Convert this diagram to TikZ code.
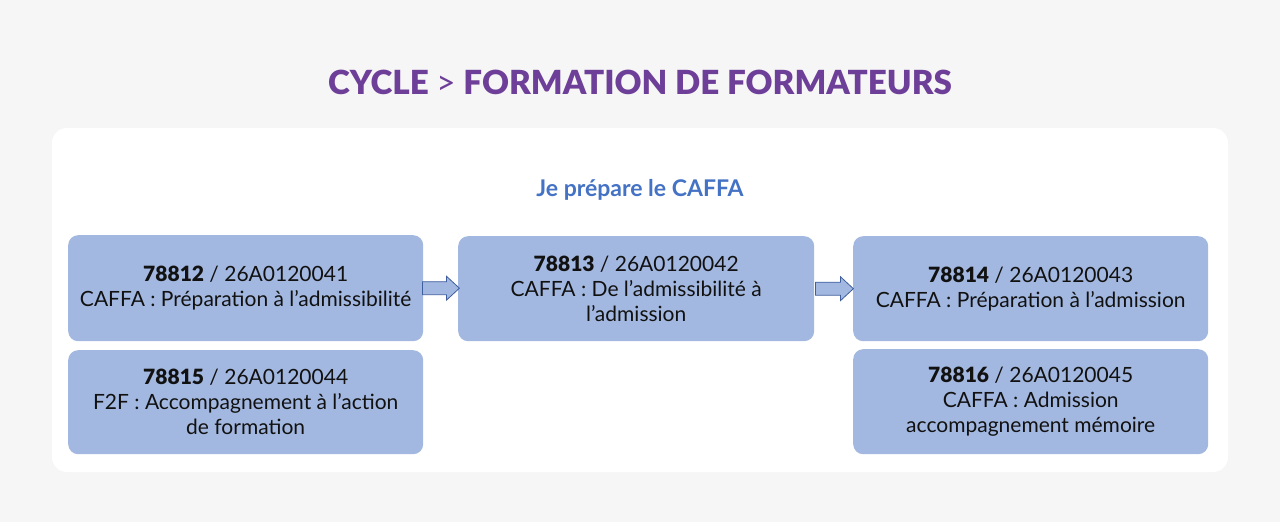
\documentclass[tikz,border=0pt]{standalone}
\usepackage{fontspec}
\setmainfont{Lato}
\newfontfamily\heavy{Lato Black}
\usetikzlibrary{calc}
\definecolor{bgc}{HTML}{F6F6F6}
\definecolor{purp}{HTML}{6E3F98}
\definecolor{subb}{HTML}{4472C4}
\definecolor{boxc}{HTML}{A3B8E0}
\definecolor{arrd}{HTML}{3F5E9E}
\definecolor{txt}{HTML}{111111}
\newcommand{\num}[1]{{\heavy #1}}
\tikzset{
  card/.style={fill=boxc, draw=none, rounded corners=10pt, minimum width=355pt, minimum height=105pt, align=center, text=txt, font=\fontsize{21}{25}\selectfont, inner sep=0pt, anchor=north west},
  barrow/.style={draw=arrd, fill=boxc, line width=0.8pt, line join=miter}
}
\begin{document}
\begin{tikzpicture}[x=1pt,y=-1pt]
\fill[bgc] (0,0) rectangle (1280,522);
\useasboundingbox (0,0) rectangle (1280,522);
\fill[white, rounded corners=15pt] (52,128) rectangle (1228,472);
\node[text=purp, font=\fontsize{33.2}{40}\selectfont\heavy] (title) at (640,82) {CYCLE {\normalfont\fontsize{33.2}{40}\selectfont >} FORMATION DE FORMATEURS};
\node[text=subb, font=\fontsize{23}{26}\selectfont\bfseries] (sub) at (640,190) {Je prépare le CAFFA};
\node[card, minimum height=106pt] (b1) at (68,235) {\num{78812} / 26A0120041\\CAFFA : Préparation à l’admissibilité};
\node[card, minimum width=356pt] (b2) at (458,236) {\num{78813} / 26A0120042\\CAFFA : De l’admissibilité à\\l’admission};
\node[card] (b3) at (853,236) {\num{78814} / 26A0120043\\CAFFA : Préparation à l’admission};
\node[card, minimum height=104pt] (b4) at (68,350) {\num{78815} / 26A0120044\\F2F : Accompagnement à l’action\\de formation};
\node[card] (b5) at (853,349) {\num{78816} / 26A0120045\\CAFFA : Admission\\accompagnement mémoire};
\coordinate (a1) at ($(b1.east)+(-1,0)$);
\coordinate (a2) at ($(b2.east)+(1,0)$);
\draw[barrow] (a1) ++(0,-6.5) -- ++(24,0) -- ++(0,-5.5) -- ++(13,12) -- ++(-13,12) -- ++(0,-5.5) -- ++(-24,0) -- cycle;
\draw[barrow] (a2) ++(0,-6.5) -- ++(25,0) -- ++(0,-5.5) -- ++(13,12) -- ++(-13,12) -- ++(0,-5.5) -- ++(-25,0) -- cycle;
\end{tikzpicture}
\end{document}
